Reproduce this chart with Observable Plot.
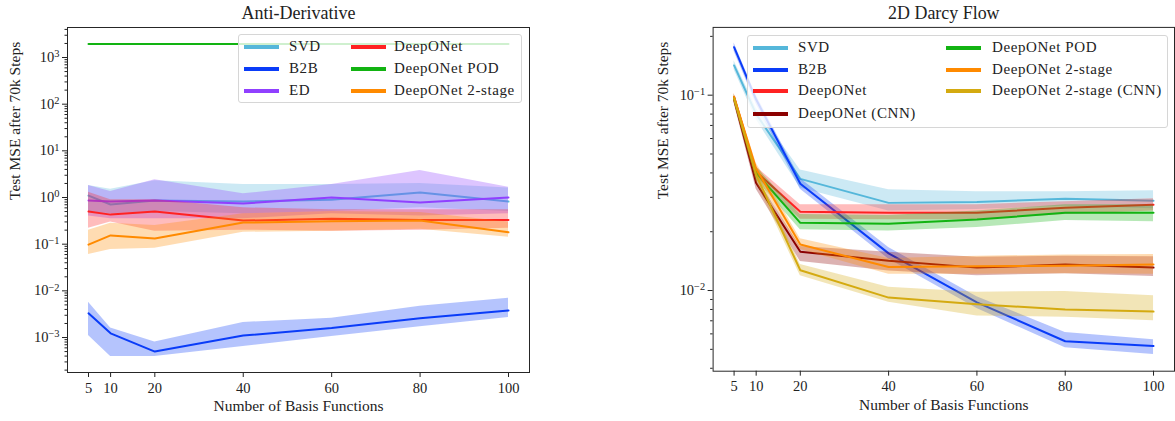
<!DOCTYPE html>
<html>
<head>
<meta charset="utf-8">
<script src="https://cdn.jsdelivr.net/npm/d3@7"></script>
<script src="https://cdn.jsdelivr.net/npm/@observablehq/plot@0.6"></script>
<style>
  html, body { margin: 0; padding: 0; background: #fff; }
  body { width: 1175px; height: 421px; overflow: hidden; position: relative; font-family: "Liberation Serif", serif; color: #222; }
  .panel { position: absolute; top: 0; }
  .panel svg { overflow: visible; font-family: "Liberation Serif", serif; }
  g[aria-label="label"] text, g[aria-label="title"] text { letter-spacing: 0.8px; }
  .legend { position: absolute; background: rgba(255,255,255,0.8); border: 1px solid #d6d6d6; border-radius: 3px; box-sizing: border-box; }
  .legend .h { position: absolute; height: 3.5px; }
  .legend .t { position: absolute; font-size: 15px; line-height: 15px; letter-spacing: 0.6px; white-space: nowrap; color: #222; font-family: "Liberation Serif", serif; }
</style>
</head>
<body>
<div id="left" class="panel" style="left:0px"></div>
<div id="right" class="panel" style="left:600px"></div>
<script>
// ---------- shared ----------
const basis = [5, 10, 20, 40, 60, 80, 100];
const xTicks = [5, 10, 20, 40, 60, 80, 100];
const yLabel = "Test MSE after 70k Steps";
const xLabel = "Number of Basis Functions";
const FONT = "Liberation Serif";

// ---------- Anti-Derivative (left) ----------
const adTitle = "Anti-Derivative";
const adNames = ["SVD", "B2B", "ED", "DeepONet", "DeepONet POD", "DeepONet 2-stage"];
const adColors = ["#55b7da", "#0a3cf8", "#9040ff", "#ff2222", "#12b312", "#ff8a00"];
const adSVD   = [1.1, 0.71, 0.86, 0.82, 0.9, 1.28, 0.82];
const adSVDLo = [0.5, 0.45, 0.5, 0.45, 0.5, 0.6, 0.5];
const adSVDHi = [1.8, 1.5, 2.3, 1.9, 1.9, 2.0, 1.6];
const adB2B   = [0.0033, 0.00123, 0.0005, 0.0011, 0.0016, 0.0026, 0.0038];
const adB2BLo = [0.0011, 0.00039, 0.00039, 0.00064, 0.00105, 0.0017, 0.0027];
const adB2BHi = [0.0057, 0.0016, 0.0008, 0.0021, 0.0026, 0.0047, 0.0069];
const adED    = [0.86, 0.82, 0.86, 0.74, 1.0, 0.78, 1.0];
const adEDLo  = [0.4, 0.35, 0.35, 0.35, 0.45, 0.4, 0.45];
const adEDHi  = [1.8, 1.35, 2.4, 1.2, 1.9, 3.8, 1.65];
const adDON   = [0.5, 0.43, 0.5, 0.32, 0.35, 0.33, 0.33];
const adDONLo = [0.22, 0.3, 0.19, 0.2, 0.19, 0.2, 0.22];
const adDONHi = [1.3, 0.9, 0.9, 0.6, 0.55, 0.55, 0.55];
const adPOD   = [1950, 1950, 1950, 1950, 1950, 1950, 1950];
const ad2S    = [0.098, 0.154, 0.133, 0.29, 0.31, 0.32, 0.18];
const ad2SLo  = [0.06, 0.077, 0.082, 0.18, 0.19, 0.21, 0.14];
const ad2SHi  = [0.2, 0.28, 0.25, 0.45, 0.5, 0.48, 0.3];
const adMajorTicks = [1e-3, 1e-2, 1e-1, 1e0, 1e1, 1e2, 1e3];
const adTickLabels = ["10^−3", "10^−2", "10^−1", "10^0", "10^1", "10^2", "10^3"];

// ---------- 2D Darcy Flow (right) ----------
const dfTitle = "2D Darcy Flow";
const dfNames = ["SVD", "B2B", "DeepONet", "DeepONet (CNN)", "DeepONet POD", "DeepONet 2-stage", "DeepONet 2-stage (CNN)"];
const dfColors = ["#55b7da", "#0a3cf8", "#ff2222", "#8b0000", "#12b312", "#ff8a00", "#d4aa10"];
const dfSVD     = [0.142, 0.08, 0.0373, 0.0281, 0.0284, 0.0295, 0.0288];
const dfSVDLo   = [0.135, 0.075, 0.0335, 0.0255, 0.026, 0.027, 0.0262];
const dfSVDHi   = [0.15, 0.086, 0.0414, 0.0328, 0.032, 0.032, 0.0324];
const dfB2B     = [0.176, 0.095, 0.0352, 0.0155, 0.0087, 0.0055, 0.0052];
const dfB2BLo   = [0.168, 0.09, 0.033, 0.0145, 0.0081, 0.0051, 0.0047];
const dfB2BHi   = [0.185, 0.1, 0.0375, 0.0166, 0.0093, 0.0061, 0.0056];
const dfDON     = [0.098, 0.0405, 0.0253, 0.025, 0.025, 0.0265, 0.0275];
const dfDONLo   = [0.094, 0.038, 0.0232, 0.023, 0.023, 0.0245, 0.0255];
const dfDONHi   = [0.102, 0.043, 0.0275, 0.0275, 0.0275, 0.0285, 0.0295];
const dfCNN     = [0.095, 0.0355, 0.0158, 0.0142, 0.0131, 0.0136, 0.0131];
const dfCNNLo   = [0.091, 0.033, 0.0141, 0.0126, 0.0119, 0.0122, 0.0118];
const dfCNNHi   = [0.099, 0.038, 0.0168, 0.0157, 0.0148, 0.015, 0.0149];
const dfPOD     = [0.097, 0.04, 0.0222, 0.022, 0.0231, 0.025, 0.025];
const dfPODLo   = [0.093, 0.037, 0.0205, 0.0202, 0.021, 0.0228, 0.0225];
const dfPODHi   = [0.101, 0.043, 0.0245, 0.0242, 0.0255, 0.0275, 0.0275];
const df2S      = [0.098, 0.042, 0.0172, 0.0132, 0.0133, 0.0134, 0.0136];
const df2SLo    = [0.094, 0.039, 0.0162, 0.0121, 0.0121, 0.0122, 0.0121];
const df2SHi    = [0.102, 0.045, 0.0184, 0.0146, 0.015, 0.0152, 0.0153];
const df2SCNN   = [0.096, 0.039, 0.0127, 0.0092, 0.0085, 0.008, 0.0078];
const df2SCNNLo = [0.092, 0.036, 0.0119, 0.0087, 0.0074, 0.0073, 0.007];
const df2SCNNHi = [0.1, 0.042, 0.0136, 0.0104, 0.0098, 0.0099, 0.0094];
const dfMajorTicks = [1e-2, 1e-1];
const dfTickLabels = ["10^−2", "10^−1"];

// ---------- helpers ----------
function rows(y, lo, hi) {
  return basis.map((x, i) => ({x, y: y[i], lo: lo ? lo[i] : null, hi: hi ? hi[i] : null}));
}
function minorTicks(lo, hi) {
  const out = [];
  for (let e = Math.floor(Math.log10(lo)); e <= Math.ceil(Math.log10(hi)); e++) {
    for (let m = 2; m <= 9; m++) {
      const v = m * Math.pow(10, e);
      if (v >= lo && v <= hi) out.push(v);
    }
  }
  return out;
}

function makePanel({series, title, width, marginLeft, marginRight, yDomain, majors, labels, ylabelDx}) {
  const labelMap = new Map(majors.map((d, i) => [d, labels[i]]));
  const marks = [];
  for (const s of series) {
    const data = rows(s.y, s.lo, s.hi);
    if (s.lo) marks.push(Plot.areaY(data, {x: "x", y1: "lo", y2: "hi", fill: s.color, fillOpacity: 0.3, curve: "linear"}));
    marks.push(Plot.line(data, {x: "x", y: "y", stroke: s.color, strokeWidth: 2}));
  }
  marks.push(Plot.axisX({ticks: xTicks, tickSize: 5, tickPadding: 5, label: null, fontSize: 14.5, fontFamily: FONT}));
  marks.push(Plot.axisY({ticks: majors, tickSize: 5, tickPadding: 3, tickFormat: d => labelMap.get(d), label: null, fontSize: 14.5, fontFamily: FONT}));
  marks.push(Plot.axisY({ticks: minorTicks(yDomain[0], yDomain[1]), tickSize: 2.5, tickFormat: () => "", label: null}));
  marks.push(Plot.frame({stroke: "#262626", strokeWidth: 1}));
  marks.push(Plot.text([title], {frameAnchor: "top", lineAnchor: "middle", dy: -14, fontSize: 18, fontFamily: FONT, fill: "#222", ariaLabel: "title"}));
  marks.push(Plot.text([xLabel], {frameAnchor: "bottom", lineAnchor: "middle", dy: 34, fontSize: 15.5, fontFamily: FONT, fill: "#222", ariaLabel: "label"}));
  marks.push(Plot.text([yLabel], {frameAnchor: "left", lineAnchor: "middle", dx: ylabelDx, rotate: -90, fontSize: 15.5, fontFamily: FONT, fill: "#222", ariaLabel: "label"}));
  const chart = Plot.plot({
    width, height: 421,
    marginLeft, marginRight, marginTop: 27, marginBottom: 49,
    style: {fontFamily: "'Liberation Serif', serif", fontSize: "14.5px", color: "#222", background: "transparent"},
    x: {domain: [0.25, 104.75], axis: null},
    y: {type: "log", domain: yDomain, axis: null},
    marks
  });
  // superscript exponents in tick labels
  d3.select(chart).selectAll("text").each(function() {
    const t = this.textContent;
    const m = /^10\^(.+)$/.exec(t);
    if (m) {
      const sel = d3.select(this);
      sel.text("10");
      sel.append("tspan").attr("dy", "-0.45em").attr("font-size", "0.72em").text(m[1]);
    }
  });
  return chart;
}

function makeLegend(container, {left, top, width, height, names, colors, rowsPerCol, colX, labelX, rowY}) {
  const div = document.createElement("div");
  div.className = "legend";
  Object.assign(div.style, {left: left + "px", top: top + "px", width: width + "px", height: height + "px"});
  names.forEach((name, i) => {
    const c = Math.floor(i / rowsPerCol), r = i % rowsPerCol;
    const h = document.createElement("div");
    h.className = "h";
    Object.assign(h.style, {left: colX[c] + "px", width: "35px", top: (rowY[r] - 1.75) + "px", background: colors[i]});
    const t = document.createElement("div");
    t.className = "t";
    t.textContent = name;
    Object.assign(t.style, {left: labelX[c] + "px", top: (rowY[r] - 8) + "px"});
    div.appendChild(h); div.appendChild(t);
  });
  container.appendChild(div);
}

// ---------- left panel ----------
const adSeries = [
  {y: adSVD, lo: adSVDLo, hi: adSVDHi, color: adColors[0]},
  {y: adB2B, lo: adB2BLo, hi: adB2BHi, color: adColors[1]},
  {y: adED, lo: adEDLo, hi: adEDHi, color: adColors[2]},
  {y: adDON, lo: adDONLo, hi: adDONHi, color: adColors[3]},
  {y: adPOD, lo: null, hi: null, color: adColors[4]},
  {y: ad2S, lo: ad2SLo, hi: ad2SHi, color: adColors[5]}
];
const leftEl = document.getElementById("left");
leftEl.appendChild(makePanel({
  series: adSeries, title: adTitle, width: 545, marginLeft: 67, marginRight: 16,
  yDomain: [1.78e-4, 4395], majors: adMajorTicks, labels: adTickLabels, ylabelDx: -52
}));
makeLegend(document.body, {
  left: 238, top: 34, width: 284, height: 69, names: adNames, colors: adColors, rowsPerCol: 3,
  colX: [5, 112], labelX: [50, 155], rowY: [12, 34, 56]
});

// ---------- right panel ----------
const dfSeries = [
  {y: dfSVD, lo: dfSVDLo, hi: dfSVDHi, color: dfColors[0]},
  {y: dfB2B, lo: dfB2BLo, hi: dfB2BHi, color: dfColors[1]},
  {y: dfDON, lo: dfDONLo, hi: dfDONHi, color: dfColors[2]},
  {y: dfCNN, lo: dfCNNLo, hi: dfCNNHi, color: dfColors[3]},
  {y: dfPOD, lo: dfPODLo, hi: dfPODHi, color: dfColors[4]},
  {y: df2S, lo: df2SLo, hi: df2SHi, color: dfColors[5]},
  {y: df2SCNN, lo: df2SCNNLo, hi: df2SCNNHi, color: dfColors[6]}
];
const rightEl = document.getElementById("right");
rightEl.appendChild(makePanel({
  series: dfSeries, title: dfTitle, width: 577, marginLeft: 113, marginRight: 1,
  yDomain: [0.003864, 0.2223], majors: dfMajorTicks, labels: dfTickLabels, ylabelDx: -50
}));
makeLegend(document.body, {
  left: 747, top: 35, width: 421, height: 93, names: dfNames, colors: dfColors, rowsPerCol: 4,
  colX: [5, 198], labelX: [50, 244], rowY: [12, 34, 55, 78]
});
</script>
</body>
</html>
